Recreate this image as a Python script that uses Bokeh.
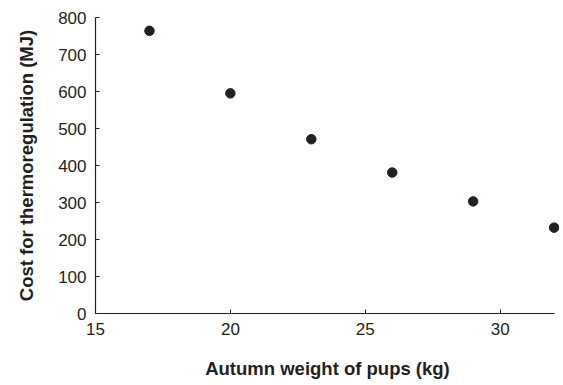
from bokeh.plotting import figure
from bokeh.models import FixedTicker, Range1d
from bokeh.embed import file_html
from bokeh.resources import INLINE

weight = [17, 20, 23, 26, 29, 32]
cost = [764, 595, 471, 381, 303, 232]
x_ticks = [15, 20, 25, 30]
y_ticks = [0, 100, 200, 300, 400, 500, 600, 700, 800]

p = figure(width=560, height=383, output_backend="svg", toolbar_location=None,
           x_range=Range1d(15, 32.2), y_range=Range1d(0, 800),
           min_border_left=95, min_border_right=1, min_border_top=17, min_border_bottom=70)
p.outline_line_color = None
p.grid.visible = False
p.background_fill_color = "white"
p.border_fill_color = "white"

p.scatter(weight, cost, size=9.5, color="#231f20")

FONT = "Liberation Sans"
for ax in (p.xaxis[0], p.yaxis[0]):
    ax.axis_line_color = "#231f20"
    ax.axis_line_width = 1.2
    ax.major_tick_line_color = "#231f20"
    ax.major_tick_in = 4
    ax.major_tick_out = 0
    ax.minor_tick_line_color = None
    ax.major_label_text_font = FONT
    ax.major_label_text_font_size = "17px"
    ax.major_label_text_color = "#231f20"
    ax.axis_label_text_font = FONT
    ax.axis_label_text_font_size = "18.5px"
    ax.axis_label_text_font_style = "bold"
    ax.axis_label_text_color = "#231f20"

p.xaxis.bounds = (15, 32)
p.xaxis.ticker = FixedTicker(ticks=x_ticks)
p.yaxis.ticker = FixedTicker(ticks=y_ticks)
p.xaxis.axis_label = "Autumn weight of pups (kg)"
p.yaxis.axis_label = "Cost for thermoregulation (MJ)"
p.xaxis.major_label_standoff = 9
p.yaxis.major_label_standoff = 9
p.xaxis.axis_label_standoff = 20
p.yaxis.axis_label_standoff = 18

open("out.html", "w").write(file_html(p, INLINE))
